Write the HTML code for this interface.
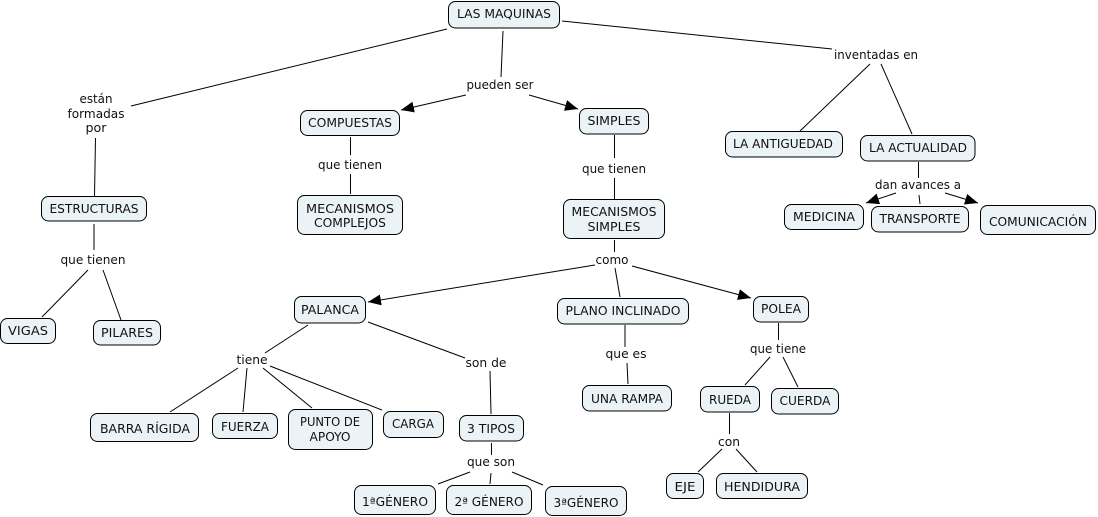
<!DOCTYPE html>
<html><head><meta charset="utf-8"><style>
html,body{margin:0;padding:0;background:#fff}
svg{display:block}
text{font-family:"DejaVu Sans",sans-serif;font-size:12px;fill:#111;text-anchor:middle}
rect{fill:#ecf3f6;stroke:#000;stroke-width:1}
line{stroke:#000;stroke-width:1}
</style></head><body>
<svg width="1098" height="517" viewBox="0 0 1098 517" xmlns="http://www.w3.org/2000/svg">
<defs><marker id="a" markerUnits="userSpaceOnUse" markerWidth="14" markerHeight="12" refX="13" refY="5.5" orient="auto"><path d="M0 0L13 5.5L0 11Z" fill="#000"/></marker></defs>
<g>
<line x1="447" y1="29" x2="131" y2="106"/>
<line x1="503" y1="31" x2="501" y2="77"/>
<line x1="466" y1="95" x2="401" y2="110" marker-end="url(#a)"/>
<line x1="529" y1="95" x2="578" y2="109" marker-end="url(#a)"/>
<line x1="562" y1="21" x2="832" y2="49"/>
<line x1="870" y1="64" x2="800" y2="131"/>
<line x1="881" y1="64" x2="912" y2="134"/>
<line x1="95.5" y1="138" x2="94.5" y2="196"/>
<line x1="94" y1="224" x2="94" y2="250"/>
<line x1="88" y1="270" x2="42" y2="317"/>
<line x1="103" y1="270" x2="121" y2="320"/>
<line x1="350.5" y1="137" x2="350.5" y2="155"/>
<line x1="350.5" y1="174" x2="350.5" y2="194"/>
<line x1="614.5" y1="135" x2="614.5" y2="158"/>
<line x1="614.5" y1="178" x2="614.5" y2="199"/>
<line x1="614.5" y1="240" x2="614.5" y2="252"/>
<line x1="595" y1="265" x2="368" y2="302" marker-end="url(#a)"/>
<line x1="615" y1="268" x2="620" y2="297"/>
<line x1="632" y1="266" x2="751" y2="298" marker-end="url(#a)"/>
<line x1="625" y1="325" x2="625" y2="347"/>
<line x1="627" y1="363" x2="628" y2="384"/>
<line x1="918.5" y1="162" x2="918.5" y2="178"/>
<line x1="896" y1="193" x2="866" y2="203" marker-end="url(#a)"/>
<line x1="919" y1="195" x2="920" y2="204"/>
<line x1="945" y1="193" x2="978" y2="203" marker-end="url(#a)"/>
<line x1="778.5" y1="323" x2="778.5" y2="340"/>
<line x1="770" y1="357" x2="745" y2="385"/>
<line x1="783" y1="357" x2="798" y2="387"/>
<line x1="729.5" y1="413" x2="729.5" y2="434"/>
<line x1="722" y1="449" x2="698" y2="472"/>
<line x1="736" y1="449" x2="757" y2="472"/>
<line x1="308" y1="325" x2="265" y2="353"/>
<line x1="238" y1="368" x2="170" y2="412"/>
<line x1="247" y1="368" x2="243" y2="412"/>
<line x1="263" y1="368" x2="312" y2="408"/>
<line x1="270" y1="366" x2="382" y2="410"/>
<line x1="368" y1="322" x2="465" y2="358"/>
<line x1="490" y1="371" x2="491" y2="414"/>
<line x1="491.5" y1="443" x2="491.5" y2="455"/>
<line x1="470" y1="472" x2="438" y2="484"/>
<line x1="491" y1="473" x2="490" y2="484"/>
<line x1="512" y1="472" x2="543" y2="485"/>
</g>
<g>
<rect x="448.5" y="1.5" width="111" height="26.5" rx="7"/>
<rect x="300.5" y="110.5" width="99" height="25" rx="7"/>
<rect x="579.5" y="108.5" width="69" height="25.5" rx="7"/>
<rect x="725.5" y="131.5" width="117" height="25.5" rx="7"/>
<rect x="860.5" y="135.5" width="114.500" height="25.5" rx="7"/>
<rect x="784.5" y="204.500" width="79" height="25" rx="7"/>
<rect x="871.5" y="206.5" width="97" height="25.5" rx="7"/>
<rect x="980.5" y="205.5" width="115" height="29" rx="7"/>
<rect x="41.5" y="196.5" width="105" height="24.500" rx="7"/>
<rect x="297.5" y="195.5" width="105" height="39" rx="7"/>
<rect x="563.5" y="199.5" width="101" height="39" rx="7"/>
<rect x="0.5" y="318.5" width="55" height="25" rx="7"/>
<rect x="93.5" y="320.5" width="67" height="24.500" rx="7"/>
<rect x="294.5" y="296.5" width="71" height="26.5" rx="7"/>
<rect x="557.5" y="298.5" width="131" height="25.500" rx="7"/>
<rect x="753.5" y="296.5" width="55" height="25.500" rx="7"/>
<rect x="582.5" y="385.5" width="89" height="25.500" rx="7"/>
<rect x="700.5" y="386.5" width="59" height="25.500" rx="7"/>
<rect x="771.5" y="388.5" width="67" height="25.500" rx="7"/>
<rect x="666.5" y="473.5" width="37" height="25" rx="7"/>
<rect x="716.5" y="473.5" width="91" height="25" rx="7"/>
<rect x="90.5" y="413.5" width="108" height="28" rx="7"/>
<rect x="212.5" y="413.5" width="65" height="25" rx="7"/>
<rect x="288.5" y="409.5" width="84" height="40" rx="7"/>
<rect x="383.5" y="411.5" width="60" height="26" rx="7"/>
<rect x="459.5" y="415.5" width="64" height="25.500" rx="7"/>
<rect x="354.5" y="485.5" width="81" height="29" rx="7"/>
<rect x="446.5" y="485.5" width="85" height="29" rx="7"/>
<rect x="545.5" y="486.5" width="81" height="29" rx="7"/>
</g>
<g>
<text x="504" y="18" textLength="94" lengthAdjust="spacingAndGlyphs">LAS MAQUINAS</text>
<text x="350" y="127" textLength="84" lengthAdjust="spacingAndGlyphs">COMPUESTAS</text>
<text x="614" y="125" textLength="53" lengthAdjust="spacingAndGlyphs">SIMPLES</text>
<text x="783" y="148" textLength="100" lengthAdjust="spacingAndGlyphs">LA ANTIGUEDAD</text>
<text x="918" y="152" textLength="98" lengthAdjust="spacingAndGlyphs">LA ACTUALIDAD</text>
<text x="824" y="221" textLength="62" lengthAdjust="spacingAndGlyphs">MEDICINA</text>
<text x="920" y="223" textLength="81" lengthAdjust="spacingAndGlyphs">TRANSPORTE</text>
<text x="1038" y="226" textLength="98" lengthAdjust="spacingAndGlyphs">COMUNICACIÓN</text>
<text x="94" y="213" textLength="89" lengthAdjust="spacingAndGlyphs">ESTRUCTURAS</text>
<text x="350" y="213" textLength="88" lengthAdjust="spacingAndGlyphs">MECANISMOS</text>
<text x="350" y="227" textLength="72" lengthAdjust="spacingAndGlyphs">COMPLEJOS</text>
<text x="614" y="216" textLength="85" lengthAdjust="spacingAndGlyphs">MECANISMOS</text>
<text x="614" y="231" textLength="53" lengthAdjust="spacingAndGlyphs">SIMPLES</text>
<text x="28" y="335" textLength="40" lengthAdjust="spacingAndGlyphs">VIGAS</text>
<text x="127" y="337" textLength="52" lengthAdjust="spacingAndGlyphs">PILARES</text>
<text x="330" y="314" textLength="58" lengthAdjust="spacingAndGlyphs">PALANCA</text>
<text x="623" y="315" textLength="115" lengthAdjust="spacingAndGlyphs">PLANO INCLINADO</text>
<text x="781" y="313" textLength="40" lengthAdjust="spacingAndGlyphs">POLEA</text>
<text x="627" y="403" textLength="72" lengthAdjust="spacingAndGlyphs">UNA RAMPA</text>
<text x="730" y="404" textLength="42" lengthAdjust="spacingAndGlyphs">RUEDA</text>
<text x="805" y="405" textLength="51" lengthAdjust="spacingAndGlyphs">CUERDA</text>
<text x="685" y="491" textLength="21" lengthAdjust="spacingAndGlyphs">EJE</text>
<text x="762" y="491" textLength="76" lengthAdjust="spacingAndGlyphs">HENDIDURA</text>
<text x="145" y="433" textLength="90" lengthAdjust="spacingAndGlyphs">BARRA RÍGIDA</text>
<text x="245" y="431" textLength="48" lengthAdjust="spacingAndGlyphs">FUERZA</text>
<text x="330" y="426" textLength="60" lengthAdjust="spacingAndGlyphs">PUNTO DE</text>
<text x="330" y="441" textLength="41" lengthAdjust="spacingAndGlyphs">APOYO</text>
<text x="413" y="428" textLength="42" lengthAdjust="spacingAndGlyphs">CARGA</text>
<text x="491" y="433" textLength="48" lengthAdjust="spacingAndGlyphs">3 TIPOS</text>
<text x="395" y="506" textLength="66" lengthAdjust="spacingAndGlyphs">1ªGÉNERO</text>
<text x="489" y="506" textLength="69" lengthAdjust="spacingAndGlyphs">2ª GÉNERO</text>
<text x="586" y="507" textLength="65" lengthAdjust="spacingAndGlyphs">3ªGÉNERO</text>
<text x="500" y="89" textLength="67" lengthAdjust="spacingAndGlyphs">pueden ser</text>
<text x="876" y="59" textLength="84" lengthAdjust="spacingAndGlyphs">inventadas en</text>
<text x="96" y="103" textLength="33" lengthAdjust="spacingAndGlyphs">están</text>
<text x="96" y="118" textLength="57" lengthAdjust="spacingAndGlyphs">formadas</text>
<text x="96" y="132" textLength="21" lengthAdjust="spacingAndGlyphs">por</text>
<text x="93" y="264" textLength="65" lengthAdjust="spacingAndGlyphs">que tienen</text>
<text x="350" y="169" textLength="64" lengthAdjust="spacingAndGlyphs">que tienen</text>
<text x="614" y="173" textLength="64" lengthAdjust="spacingAndGlyphs">que tienen</text>
<text x="612" y="264" textLength="33" lengthAdjust="spacingAndGlyphs">como</text>
<text x="626" y="358" textLength="41" lengthAdjust="spacingAndGlyphs">que es</text>
<text x="778" y="353" textLength="56" lengthAdjust="spacingAndGlyphs">que tiene</text>
<text x="729" y="446" textLength="22" lengthAdjust="spacingAndGlyphs">con</text>
<text x="252" y="364" textLength="31" lengthAdjust="spacingAndGlyphs">tiene</text>
<text x="486" y="367" textLength="41" lengthAdjust="spacingAndGlyphs">son de</text>
<text x="491" y="466" textLength="48" lengthAdjust="spacingAndGlyphs">que son</text>
<text x="918" y="189" textLength="86" lengthAdjust="spacingAndGlyphs">dan avances a</text>
</g>
</svg>
</body></html>
